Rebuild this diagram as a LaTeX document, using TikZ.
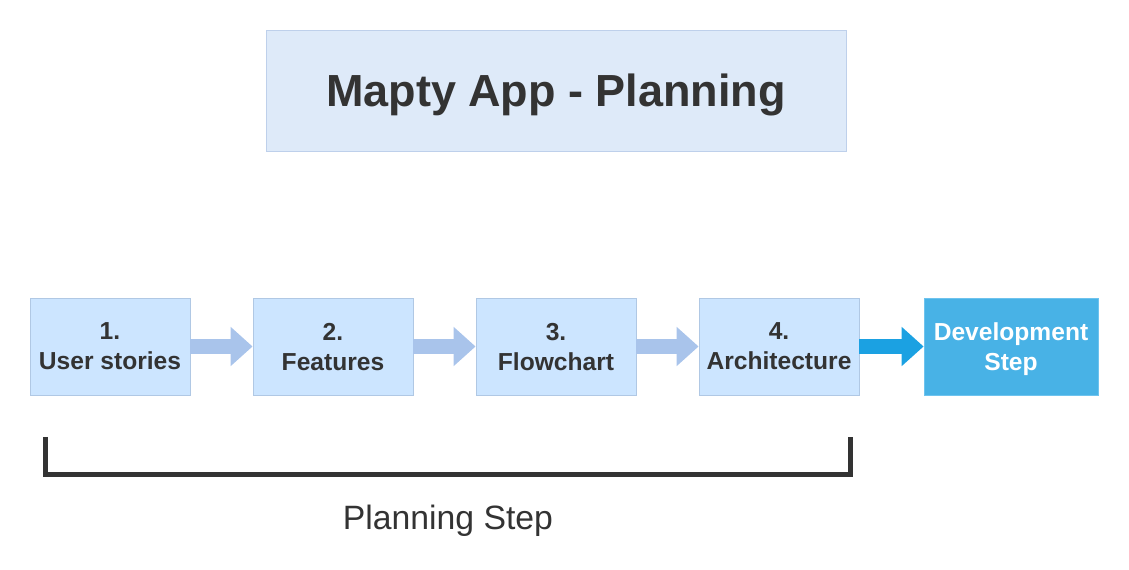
\documentclass[tikz,border=0pt]{standalone}
\usepackage{fontspec}
\setmainfont{Liberation Sans}
\usepackage{xcolor}
\usepackage{tikz}
\usetikzlibrary{arrows.meta, positioning}
\definecolor{titlecolor}{RGB}{222,234,249}
\definecolor{titleborder}{RGB}{190,208,235}
\definecolor{stepcolor}{RGB}{204,229,255}
\definecolor{stepborder}{RGB}{176,200,228}
\definecolor{flowcolor}{RGB}{169,196,235}
\definecolor{devcolor}{RGB}{72,178,230}
\definecolor{devborder}{RGB}{110,195,238}
\definecolor{devarrow}{RGB}{27,161,226}
\definecolor{textcolor}{RGB}{51,51,51}

\begin{document}
\begin{tikzpicture}[
    stepbox/.style={draw=stepborder, fill=stepcolor, line width=0.6pt,
        minimum width=4cm, minimum height=2.425cm, align=center,
        text depth=0pt, text=textcolor,
        font=\fontsize{17.5}{21.3}\selectfont\bfseries},
    flow/.style={line width=0.375cm, flowcolor,
        -{Triangle[length=0.55cm, width=0.95cm]}},
    node distance=1.554cm,
]
    \useasboundingbox (0,0) rectangle (28.225,14.225);

    % Title
    \node[draw=titleborder, fill=titlecolor, line width=0.6pt,
        minimum width=14.5cm, minimum height=3.025cm, text depth=0pt,
        text=textcolor, font=\fontsize{32}{38}\selectfont\bfseries]
        (title) at (13.9, 11.9625) {Mapty App - Planning};

    % Planning boxes
    \node[stepbox] (stories) at (2.75, 5.5625) {1.\\User stories};
    \node[stepbox, right=of stories] (features) {2.\\Features};
    \node[stepbox, right=of features] (flowchart) {3.\\Flowchart};
    \node[stepbox, right=of flowchart] (architecture) {4.\\Architecture};

    % Development box
    \node[stepbox, draw=devborder, fill=devcolor, text=white,
        minimum width=4.35cm, right=1.604cm of architecture] (development)
        {Development\\Step};

    % Arrows
    \draw[flow] (stories) -- (features);
    \draw[flow] (features) -- (flowchart);
    \draw[flow] (flowchart) -- (architecture);
    \draw[flow, devarrow] (architecture) -- (development);

    % Bracket
    \coordinate (bl) at (1.125, 3.3);
    \coordinate (br) at (21.25, 3.3);
    \draw[line width=0.125cm, textcolor] (bl) -- ++(0,-0.925) -| (br);
    \node[text=textcolor, font=\fontsize{24}{28}\selectfont]
        (planning) at (11.2, 1.2) {Planning Step};
\end{tikzpicture}
\end{document}
